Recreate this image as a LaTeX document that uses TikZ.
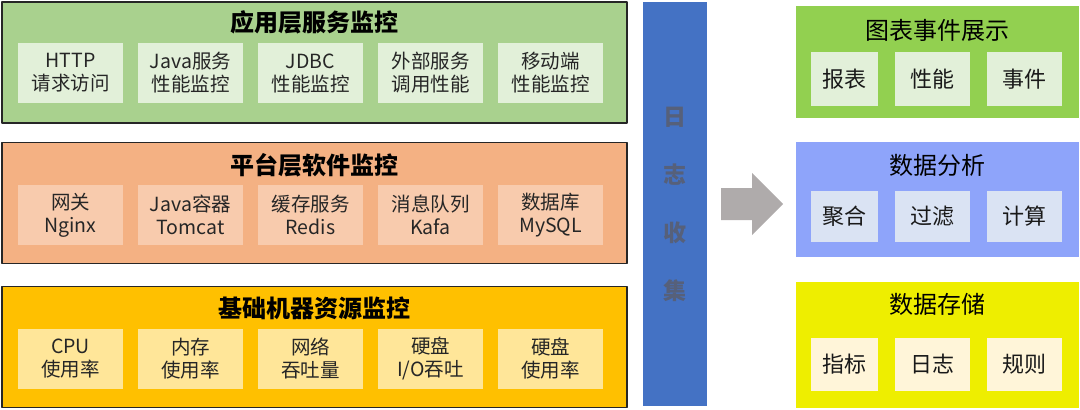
\documentclass[tikz,border=0pt]{standalone}
\usepackage{fontspec}
\setmainfont{Noto Sans CJK SC}
\definecolor{appgreen}{HTML}{A9D18E}
\definecolor{appcell}{HTML}{E2F0D9}
\definecolor{platorange}{HTML}{F4B183}
\definecolor{platcell}{HTML}{F8CBAD}
\definecolor{basegold}{HTML}{FFC000}
\definecolor{basecell}{HTML}{FFE699}
\definecolor{logblue}{HTML}{4472C4}
\definecolor{logtext}{HTML}{56607A}
\definecolor{arrowgray}{HTML}{AFABAB}
\definecolor{showgreen}{HTML}{92D050}
\definecolor{anablue}{HTML}{8EA4FA}
\definecolor{anacell}{HTML}{DAE3F3}
\definecolor{storeyellow}{HTML}{EEEE00}
\definecolor{storecell}{HTML}{FFF5D9}
\tikzset{
	layer/.style={draw=black!85,line width=1.3pt,minimum width=625pt,minimum height=121pt,inner sep=0pt},
	cell/.style={minimum width=105pt,minimum height=60pt,inner sep=0pt,align=center,font=\fontsize{19.5}{23}\selectfont,text=black!85},
	layertitle/.style={font=\fontsize{24}{28}\selectfont\bfseries},
	block/.style={minimum width=283pt,inner sep=0pt},
	blocktitle/.style={font=\fontsize{24}{28}\selectfont},
	tag/.style={inner sep=0pt,font=\fontsize{22}{26}\selectfont,text=black!90}
}
\begin{document}
\begin{tikzpicture}[x=1pt,y=-1pt,line join=round]
	\useasboundingbox (0,0) rectangle (1080,410);
	% left: three monitoring layers
	\node[layer,fill=appgreen] (app) at (314.5,62.5) {};
	\node[layer,fill=platorange] (plat) at (314.5,203) {};
	\node[layer,fill=basegold] (base) at (314.5,347) {};
	\node[layertitle] (apptitle) at (314.5,22) {应用层服务监控};
	\node[layertitle] (plattitle) at (314.5,165) {平台层软件监控};
	\node[layertitle] (basetitle) at (314.5,308) {基础机器资源监控};
	\foreach \i/\t in {0/{HTTP\\请求访问},1/{Java服务\\性能监控},2/{JDBC\\性能监控},3/{外部服务\\调用性能},4/{移动端\\性能监控}}
	\node[cell,fill=appcell] (app\i) at (70.5+120*\i,73) {\t};
	\foreach \i/\t in {0/{网关\\Nginx},1/{Java容器\\Tomcat},2/{缓存服务\\Redis},3/{消息队列\\Kafa},4/{数据库\\MySQL}}
	\node[cell,fill=platcell] (plat\i) at (70.5+120*\i,215) {\t};
	\foreach \i/\t in {0/{CPU\\使用率},1/{内存\\使用率},2/{网络\\吞吐量},3/{硬盘\\I/O吞吐},4/{硬盘\\使用率}}
	\node[cell,fill=basecell] (base\i) at (70.5+120*\i,358.5) {\t};
	% log collection bar
	\node[fill=logblue,minimum width=64pt,minimum height=404pt,inner sep=0pt,align=center,
	text=logtext,font=\fontsize{23}{58}\selectfont\bfseries] (logbar) at (675,204) {日\\志\\收\\集};
	% gray arrow
	\fill[arrowgray] (721,188)--(752,188)--(752,173)--(783,204)--(752,235)--(752,220)--(721,220)--cycle;
	% right: display, analysis, storage
	\node[block,fill=showgreen,minimum height=112pt] (show) at (937.5,62) {};
	\node[block,fill=anablue,minimum height=115pt] (ana) at (937.5,199.5) {};
	\node[block,fill=storeyellow,minimum height=126pt] (store) at (937.5,345) {};
	\node[blocktitle] (showtitle) at (937.5,30) {图表事件展示};
	\node[blocktitle] (anatitle) at (937.5,165) {数据分析};
	\node[blocktitle] (storetitle) at (937.5,304) {数据存储};
	\foreach \n/\x/\w/\t in {0/844.5/67/报表,1/932.5/75/性能,2/1024.5/75/事件}
	\node[tag,fill=appcell,minimum width=\w pt,minimum height=54pt] (show\n) at (\x,79) {\t};
	\foreach \n/\x/\w/\t in {0/844.5/67/聚合,1/932.5/75/过滤,2/1024.5/75/计算}
	\node[tag,fill=anacell,minimum width=\w pt,minimum height=51pt] (ana\n) at (\x,216.5) {\t};
	\foreach \n/\x/\w/\t in {0/844.5/67/指标,1/932.5/75/日志,2/1024.5/75/规则}
	\node[tag,fill=storecell,minimum width=\w pt,minimum height=53pt] (store\n) at (\x,364.5) {\t};
\end{tikzpicture}
\end{document}
